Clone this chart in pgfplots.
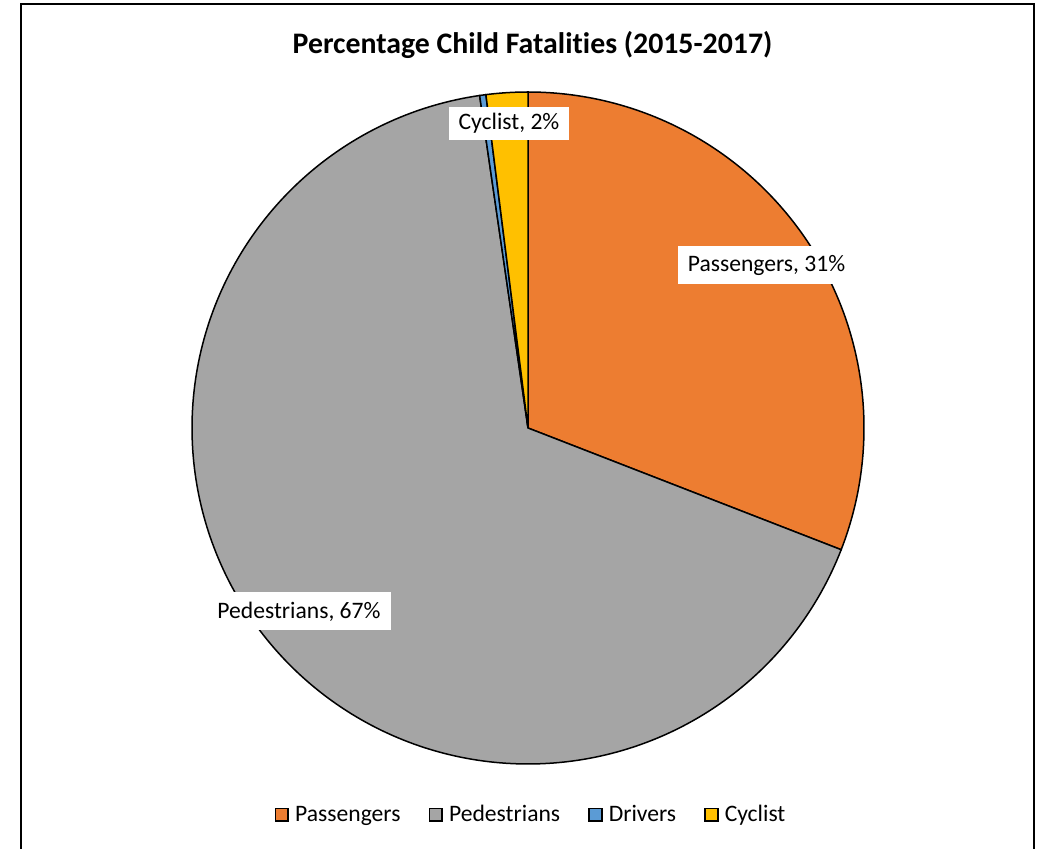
\documentclass[border=0pt]{standalone}
\usepackage{pgfplots}
\usepackage{pgfplotstable}
\pgfplotsset{compat=1.18}
\usepackage{fontspec}
\setmainfont[Ligatures={NoCommon}]{Carlito}

\definecolor{cPass}{HTML}{ED7D31}
\definecolor{cPed}{HTML}{A5A5A5}
\definecolor{cDrv}{HTML}{5B9BD5}
\definecolor{cCyc}{HTML}{FFC000}

% share of child fatalities, percent
\pgfplotstableread{
group        share
Passengers   30.9
Pedestrians  66.8
Drivers      0.3
Cyclist      2.0
}\pietable

\pgfplotstablegetelem{0}{share}\of\pietable \let\sA\pgfplotsretval
\pgfplotstablegetelem{1}{share}\of\pietable \let\sB\pgfplotsretval
\pgfplotstablegetelem{2}{share}\of\pietable \let\sC\pgfplotsretval
\pgfplotstablegetelem{3}{share}\of\pietable \let\sD\pgfplotsretval

% clockwise from 12 o'clock
\pgfmathsetmacro\aA{90}
\pgfmathsetmacro\aB{\aA-3.6*\sA}
\pgfmathsetmacro\aC{\aB-3.6*\sB}
\pgfmathsetmacro\aD{\aC-3.6*\sC}
\pgfmathsetmacro\aE{\aD-3.6*\sD}

\def\cx{528}
\def\cy{421}
\def\rr{336}

\begin{document}
\begin{tikzpicture}[
    lbl/.style={fill=white, inner xsep=5pt, inner ysep=0pt, minimum height=#1,
      font=\fontsize{11.8}{14}\selectfont}]
\begin{axis}[
    scale only axis,
    width=519pt, height=424.5pt,
    xmin=0, xmax=1038, ymin=0, ymax=849,
    hide axis,
    clip=false,
    legend columns=4,
    legend style={at={(axis cs:532,34)}, anchor=center, draw=none,
      font=\fontsize{11.8}{14}\selectfont,
      /tikz/every odd column/.style={column sep=1pt},
      /tikz/every even column/.style={column sep=12pt}},
    legend image code/.code={\draw[#1, draw=black, line width=0.9pt] (0pt,-3.2pt) rectangle (6.4pt,3.2pt);},
  ]
  \path (axis cs:0,0) rectangle (axis cs:1038,849);
  \draw[line width=1pt] (axis cs:21,0) |- (axis cs:1034,845) -- (axis cs:1034,0);

  \addplot[fill=cPass, draw=black, line width=0.75pt, domain=\aB:\aA, samples=120, variable=\t]
    ({\cx+\rr*cos(\t)}, {\cy+\rr*sin(\t)}) -- (axis cs:\cx,\cy) -- cycle;
  \addlegendentry{Passengers}
  \addplot[fill=cPed, draw=black, line width=0.75pt, domain=\aC:\aB, samples=240, variable=\t]
    ({\cx+\rr*cos(\t)}, {\cy+\rr*sin(\t)}) -- (axis cs:\cx,\cy) -- cycle;
  \addlegendentry{Pedestrians}
  \addplot[fill=cDrv, draw=black, line width=0.75pt, domain=\aD:\aC, samples=5, variable=\t]
    ({\cx+\rr*cos(\t)}, {\cy+\rr*sin(\t)}) -- (axis cs:\cx,\cy) -- cycle;
  \addlegendentry{Drivers}
  \addplot[fill=cCyc, draw=black, line width=0.75pt, domain=\aE:\aD, samples=12, variable=\t]
    ({\cx+\rr*cos(\t)}, {\cy+\rr*sin(\t)}) -- (axis cs:\cx,\cy) -- cycle;
  \addlegendentry{Cyclist}

  \node[font=\fontsize{14.9}{17}\selectfont\bfseries] at (axis cs:532.5,804) {Percentage Child Fatalities (2015-2017)};

  \node[lbl=19pt] at (axis cs:766.5,584) {Passengers, 31\%};
  \node[lbl=19pt] at (axis cs:299,237.5) {Pedestrians, 67\%};
  \node[lbl=16.5pt] at (axis cs:509,725.5) {Cyclist, 2\%};
\end{axis}
\end{tikzpicture}
\end{document}
